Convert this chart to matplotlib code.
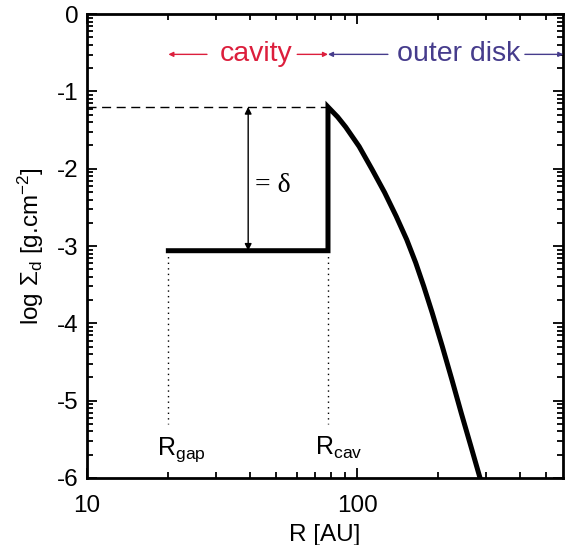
import numpy as np
import matplotlib
matplotlib.use('Agg')
import matplotlib.pyplot as plt
from matplotlib.ticker import FixedLocator, NullFormatter

plt.rcParams['font.family'] = ['Liberation Sans', 'DejaVu Sans']
plt.rcParams['mathtext.fontset'] = 'custom'
plt.rcParams['mathtext.rm'] = 'Liberation Sans'
plt.rcParams['mathtext.it'] = 'Liberation Sans:italic'
plt.rcParams['axes.unicode_minus'] = False

# --- data ---
R_GAP = 20.0
R_CAV = 78.0
LOG_SIG_CAV = -3.06
LOG_SIG_PEAK = -1.2
outer_R = [78.0, 84.7, 90.7, 101.7, 113.6, 126.4, 139.5, 152.6, 164.7, 176.5,
           189.6, 206.7, 224.4, 243.0, 264.0, 284.2, 297.8]
outer_logS = [-1.2, -1.33, -1.46, -1.711, -2.009, -2.307, -2.614, -2.916, -3.214, -3.521,
              -3.862, -4.298, -4.730, -5.161, -5.594, -5.983, -6.22]
x_major = [10, 100]
x_minor = [20, 30, 40, 50, 60, 70, 80, 90, 200, 300, 400, 500]
y_major = [0, -1, -2, -3, -4, -5, -6]

RED = '#DC1E3C'
BLUE = '#463C8C'

fig = plt.figure(figsize=(5.69, 5.45), dpi=100)
ax = fig.add_axes([0.153, 0.123, 0.837, 0.851])

# step profile + outer disk
prof_R = [R_GAP, R_CAV] + outer_R
prof_S = [LOG_SIG_CAV, LOG_SIG_CAV] + outer_logS
ax.plot(prof_R, prof_S, color='black', lw=3.6, solid_joinstyle='miter', clip_on=True)

# dashed level of the peak
ax.plot([10, R_CAV], [LOG_SIG_PEAK, LOG_SIG_PEAK], color='black', lw=1.0, dashes=(6.5, 4))

# dotted markers for Rgap and Rcav
for r in (R_GAP, R_CAV):
    ax.plot([r, r], [LOG_SIG_CAV, -5.3], color='black', lw=1.0, ls=(0, (1, 3)))

# delta arrow
ax.annotate('', xy=(39.5, LOG_SIG_PEAK), xytext=(39.5, LOG_SIG_CAV),
            arrowprops=dict(arrowstyle='<|-|>', color='black', lw=1.0,
                            mutation_scale=10, shrinkA=0, shrinkB=0))
ax.text(41.9, -2.22, '= \u03b4', fontsize=20, family=['Liberation Serif'], va='center', ha='left')

ax.text(18.2, -5.70, r'R$_{\rm gap}$', fontsize=18, ha='left', va='baseline')
ax.text(69.9, -5.70, r'R$_{\rm cav}$', fontsize=18, ha='left', va='baseline')

# region annotations
y_ann = -0.52
arr = dict(arrowstyle='-|>', lw=1.0, mutation_scale=7, shrinkA=0, shrinkB=0)
ax.annotate('', xy=(R_GAP, y_ann), xytext=(27.8, y_ann), arrowprops=dict(arr, color=RED))
ax.annotate('', xy=(R_CAV, y_ann), xytext=(60.0, y_ann), arrowprops=dict(arr, color=RED))
ax.text(42.3, y_ann, 'cavity', color=RED, fontsize=20.5, ha='center', va='center')
ax.annotate('', xy=(R_CAV, y_ann), xytext=(130, y_ann), arrowprops=dict(arr, color=BLUE))
ax.annotate('', xy=(580, y_ann), xytext=(418, y_ann), arrowprops=dict(arr, color=BLUE))
ax.text(237, y_ann, 'outer disk', color=BLUE, fontsize=20.5, ha='center', va='center')

ax.set_xscale('log')
ax.set_xlim(10, 580)
ax.set_ylim(-6, 0)
ax.xaxis.set_major_locator(FixedLocator(x_major))
ax.xaxis.set_minor_locator(FixedLocator(x_minor))
ax.xaxis.set_minor_formatter(NullFormatter())
ax.set_xticklabels(['10', '100'])
ax.yaxis.set_major_locator(FixedLocator(y_major))
y_minor = [m + np.log10(k) for m in range(-6, 0) for k in range(2, 10)]
ax.yaxis.set_minor_locator(FixedLocator(y_minor))
ax.set_yticklabels([str(v) for v in y_major])

ax.tick_params(which='both', direction='in', top=True, right=True, width=1.3, labelsize=17.5)
ax.tick_params(axis='x', which='both', pad=12)
ax.tick_params(axis='y', which='both', pad=6)
ax.tick_params(which='major', length=7)
ax.tick_params(which='minor', length=4)
for s in ax.spines.values():
    s.set_linewidth(2.0)

ax.set_xlabel('R [AU]', fontsize=17.5, labelpad=5)
ax.set_ylabel(r'log $\Sigma_{\rm d}$ [g.cm$^{-2}$]', fontsize=17.5, labelpad=8)

fig.savefig('out.png', dpi=100)
